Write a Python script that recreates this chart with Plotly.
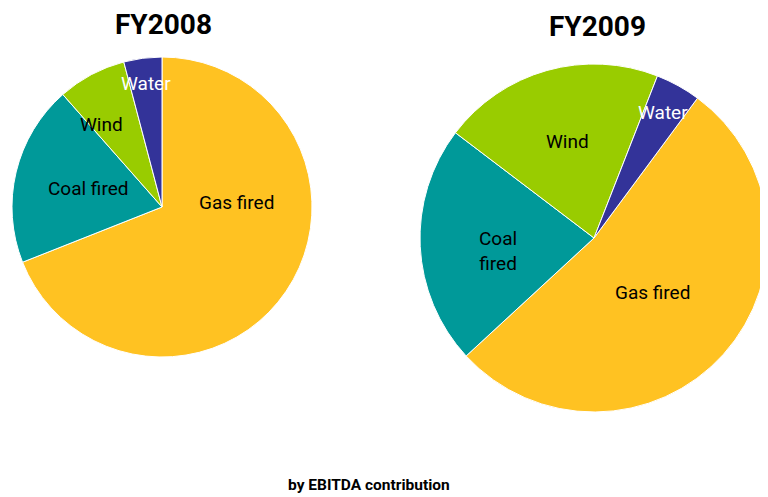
import plotly.graph_objects as go

labels = ["Gas fired", "Coal fired", "Wind", "Water"]
labels_2009 = ["Gas fired", "Coal<br>fired", "Wind", "Water"]
fy2008 = [69.0, 19.5, 7.4, 4.1]
fy2009 = [53.0, 22.2, 20.6, 4.2]
colors = ["#FFC222", "#009999", "#99CC00", "#333399"]
text_colors = ["#000000", "#000000", "#000000", "#FFFFFF"]
titles = ["FY2008", "FY2009"]
footer = "by EBITDA contribution"

FONT = "Liberation Sans Narrow, Arial Narrow, Roboto, Liberation Sans, sans-serif"
# page body has an 8px margin, so the figure is drawn 8px smaller
W, H = 760, 489

# label anchor positions (figure pixels, from top-left)
pos_2008 = [(228, 194), (80, 180), (93, 116), (138, 75)]
pos_2009 = [(644, 284), (490, 243), (559, 133), (655, 105)]

fig = go.Figure()
fig.add_trace(go.Pie(
    labels=labels, values=fy2008, textinfo="none",
    sort=False, direction="clockwise", rotation=0,
    marker=dict(colors=colors, line=dict(color="white", width=1)),
    domain=dict(x=[4 / W, 304 / W], y=[140 / H, 440 / H]),
    showlegend=False, hoverinfo="label+percent",
))
fig.add_trace(go.Pie(
    labels=labels, values=fy2009, textinfo="none",
    sort=False, direction="clockwise", rotation=36.5,
    marker=dict(colors=colors, line=dict(color="white", width=1)),
    domain=dict(x=[412 / W, 1.0], y=[83 / H, 435 / H]),
    showlegend=False, hoverinfo="label+percent",
))

annotations = []
for txt, (px, py), col in zip(labels, pos_2008, text_colors):
    annotations.append(dict(text=txt, x=px / W, y=1 - py / H, xref="paper", yref="paper",
                            showarrow=False, xanchor="center", yanchor="middle",
                            font=dict(size=19, family=FONT, color=col)))
for txt, (px, py), col in zip(labels_2009, pos_2009, text_colors):
    annotations.append(dict(text=txt, x=px / W, y=1 - py / H, xref="paper", yref="paper",
                            showarrow=False, xanchor="center", yanchor="middle",
                            font=dict(size=19, family=FONT, color=col)))
annotations += [
    dict(text="<b>" + titles[0] + "</b>", x=155 / W, y=1 - 17 / H, xref="paper", yref="paper",
         showarrow=False, font=dict(size=28, family=FONT), xanchor="center", yanchor="middle"),
    dict(text="<b>" + titles[1] + "</b>", x=589 / W, y=1 - 19 / H, xref="paper", yref="paper",
         showarrow=False, font=dict(size=28, family=FONT), xanchor="center", yanchor="middle"),
    dict(text="<b>" + footer + "</b>", x=361 / W, y=1 - 477 / H, xref="paper", yref="paper",
         showarrow=False, font=dict(size=15.5, family=FONT), xanchor="center", yanchor="middle"),
]

fig.update_layout(
    width=W, height=H,
    margin=dict(l=0, r=0, t=0, b=0),
    paper_bgcolor="white", plot_bgcolor="white",
    font=dict(family=FONT, color="black"),
    annotations=annotations,
)

fig.write_html("out.html")
